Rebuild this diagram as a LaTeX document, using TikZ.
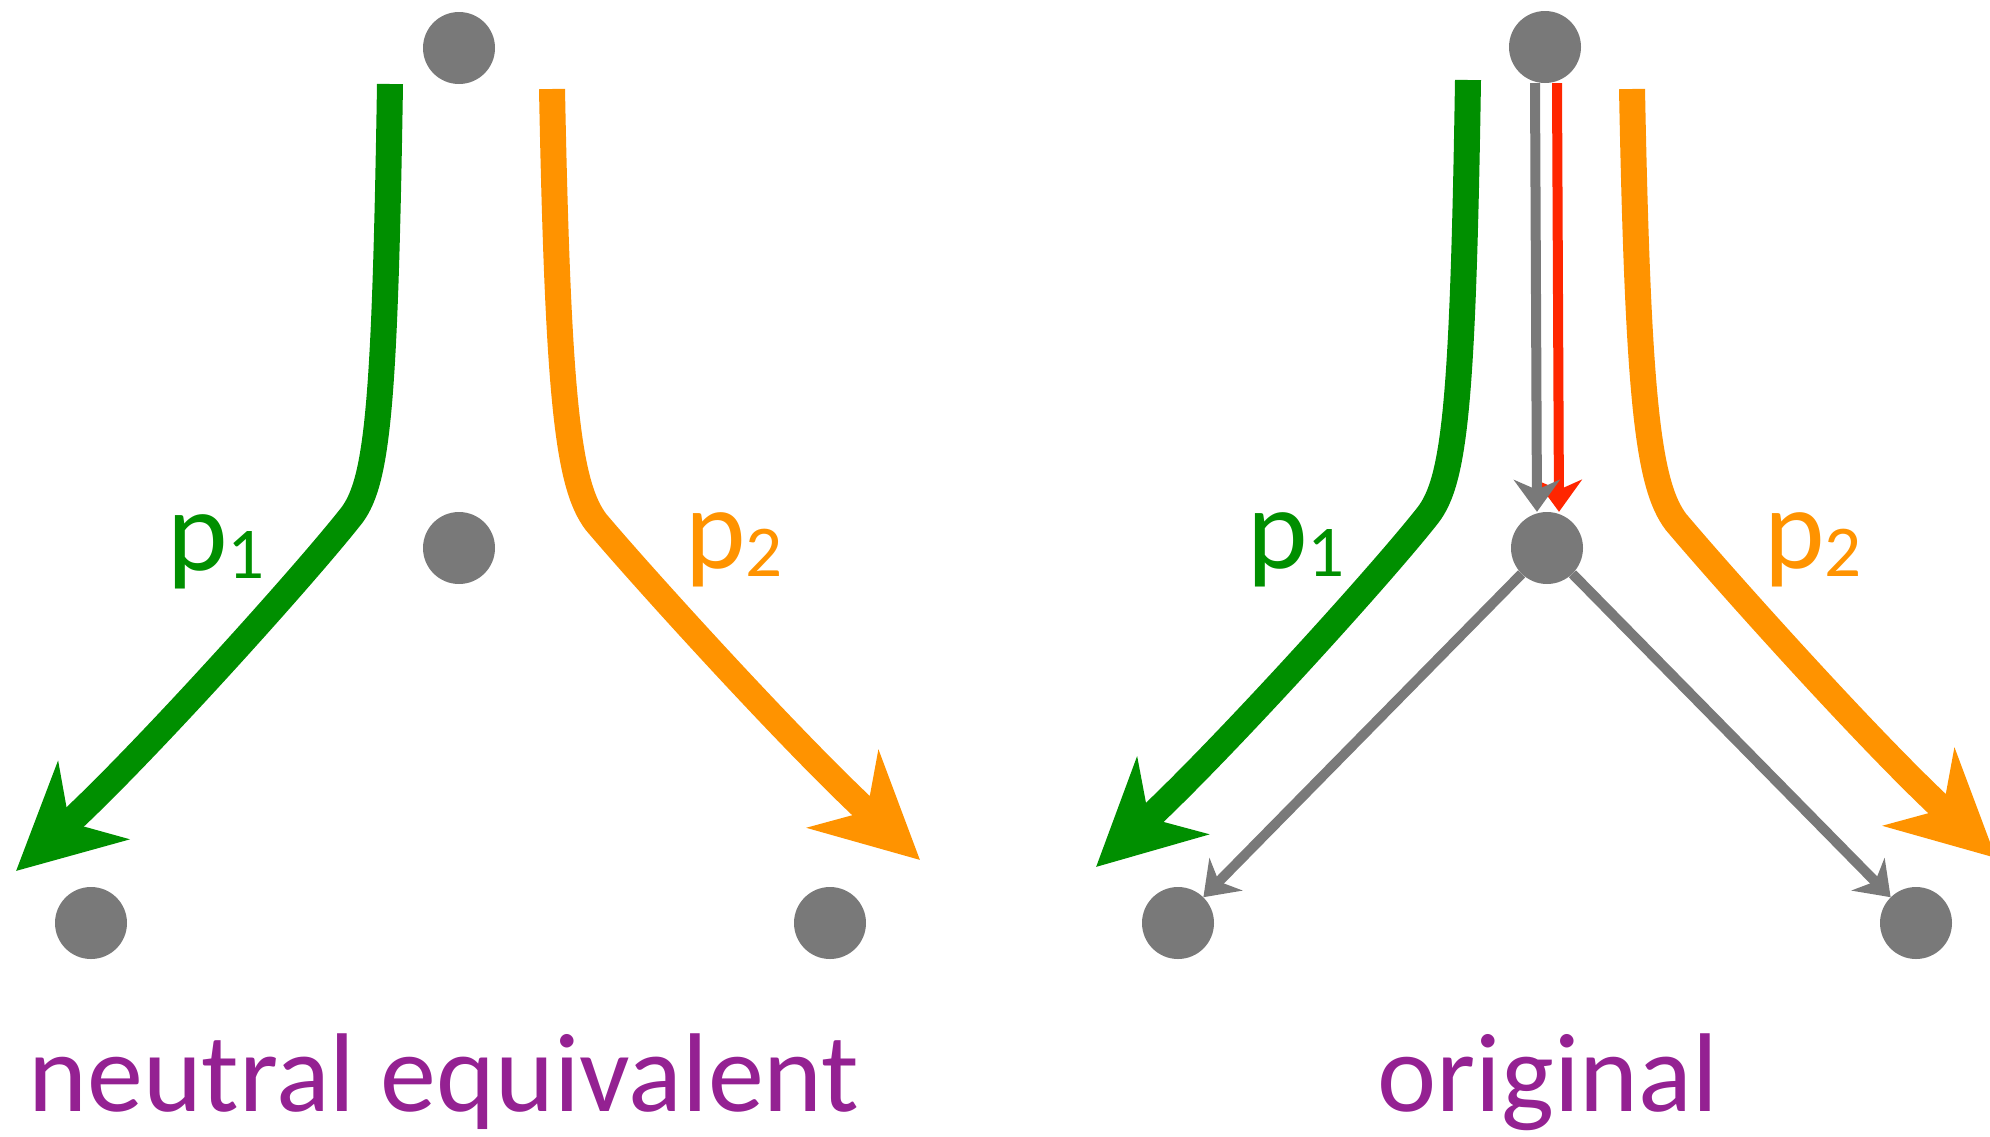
\documentclass[tikz,border=0pt]{standalone}
\usepackage{fontspec}
\setmainfont{Carlito}
\usetikzlibrary{arrows.meta}

\definecolor{dotgray}{RGB}{121,121,121}
\definecolor{pathgreen}{RGB}{0,143,0}
\definecolor{pathorange}{RGB}{255,147,0}
\definecolor{edgered}{RGB}{255,38,0}
\definecolor{capplum}{RGB}{148,33,146}

\newcommand{\plabel}[1]{\fontsize{115}{120}\selectfont p\raisebox{-8pt}{\fontsize{73}{73}\selectfont #1}}

\begin{document}
\begin{tikzpicture}[
            x=1pt, y=-1pt,
            vertex/.style = {circle, fill=dotgray, minimum size=72pt, inner sep=0pt},
            bigpath/.style = {line width=26pt, -{Stealth[length=104pt, width=104pt, inset=32pt]}},
            flow/.style = {line width=10pt, -{Stealth[length=32pt, width=46pt, inset=10pt]}},
            plab/.style = {anchor=base west, inner sep=0pt},
            caption/.style = {anchor=base, inner sep=0pt, text=capplum, font=\fontsize{112}{120}\selectfont},
        ]
            \useasboundingbox (0,0) rectangle (1990,1136);

            % neutral equivalent (left)
            \node[vertex] (ltop) at (459,48) {};
            \node[vertex] (lmid) at (459,548) {};
            \node[vertex] (lleft) at (91,923) {};
            \node[vertex] (lright) at (830,923) {};

            % original (right)
            \node[vertex] (rtop) at (1545,47) {};
            \node[vertex] (rmid) at (1547,548) {};
            \node[vertex] (rleft) at (1178,923) {};
            \node[vertex] (rright) at (1916,923) {};

            % ends and bends of the two paths
            \coordinate (lgs) at (390,84);
            \coordinate (lgb) at (352,515);
            \coordinate (lge) at (16,871);
            \coordinate (los) at (552,89);
            \coordinate (lob) at (596,522);
            \coordinate (loe) at (920,860);
            \coordinate (rgs) at (1468,80);
            \coordinate (rgb) at (1428,515);
            \coordinate (rge) at (1096,867);
            \coordinate (ros) at (1632,89);
            \coordinate (rob) at (1676,522);
            \coordinate (roe) at (1996,858);

            % paths p1 and p2
            \draw[bigpath, pathgreen] (lgs) .. controls (385,400) and (378,480) .. (lgb)
                .. controls (305,575) and (140,758) .. (lge);
            \draw[bigpath, pathorange] (los) .. controls (558,400) and (568,485) .. (lob)
                .. controls (645,580) and (795,745) .. (loe);
            \draw[bigpath, pathgreen] (rgs) .. controls (1463,400) and (1455,480) .. (rgb)
                .. controls (1381,575) and (1220,752) .. (rge);
            \draw[bigpath, pathorange] (ros) .. controls (1638,400) and (1648,485) .. (rob)
                .. controls (1725,580) and (1871,743) .. (roe);

            % edges of the original
            \draw[flow, edgered] ([xshift=12pt]rtop.south) -- ([xshift=12pt]rmid.north);
            \draw[flow, dotgray] ([xshift=-10pt]rtop.south) -- ([xshift=-10pt]rmid.north);
            \draw[flow, dotgray] (rmid) -- (rleft);
            \draw[flow, dotgray] (rmid) -- (rright);

            % labels
            \node[plab, text=pathgreen] (lp1) at (167,570) {\plabel{1}};
            \node[plab, text=pathorange] (lp2) at (685,568) {\plabel{2}};
            \node[plab, text=pathgreen] (rp1) at (1247,568) {\plabel{1}};
            \node[plab, text=pathorange] (rp2) at (1764,568) {\plabel{2}};

            \node[caption] (neutral) at (444,1111) {neutral equivalent};
            \node[caption] (orig) at (1548,1111) {original};
        \end{tikzpicture}
\end{document}
